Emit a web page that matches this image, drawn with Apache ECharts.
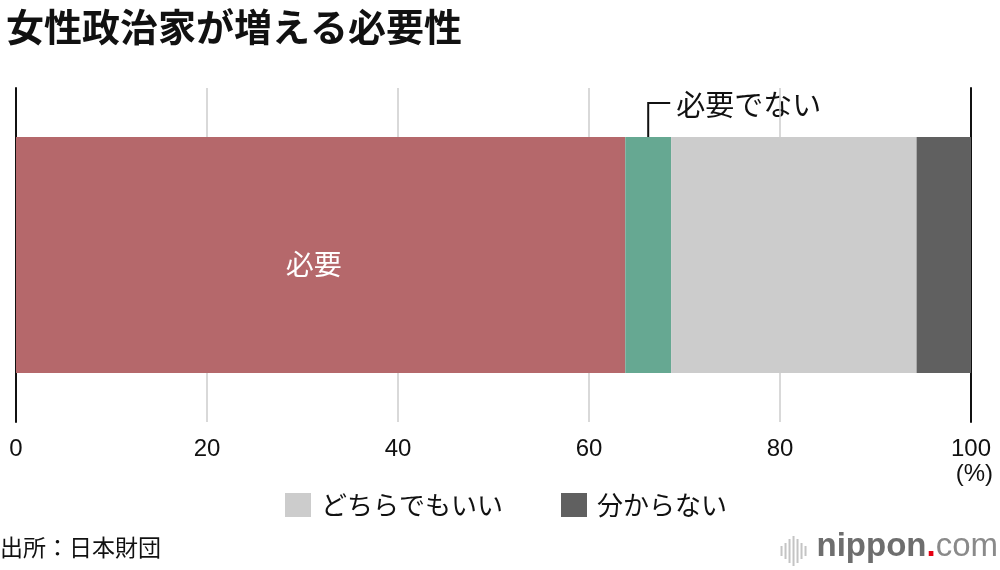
<!DOCTYPE html>
<html><head><meta charset="utf-8">
<script src="https://cdn.jsdelivr.net/npm/echarts@6/dist/echarts.min.js"></script>
<style>html,body{margin:0;padding:0;background:#fff;}#c{width:1000px;height:570px;}</style>
</head><body><div id="c"></div>
<script>
const categories = ['全体'];
const seriesNames = ['必要', '必要でない', 'どちらでもいい', '分からない'];
const seriesValues = [[63.8], [4.8], [25.7], [5.7]];
const seriesColors = ['#b5686b', '#66a892', '#cccccc', '#606060'];
const xTicks = [0, 20, 40, 60, 80, 100];
const FONT = '"Noto Sans CJK JP", "Noto Sans", sans-serif';
const NUMFONT = '"Liberation Sans", Arial, sans-serif';

const chart = echarts.init(document.getElementById('c'), null, {renderer: 'canvas'});
const series = seriesNames.map((n, i) => ({
  name: n, type: 'bar', stack: 'all', barWidth: 236,
  data: seriesValues[i],
  itemStyle: {color: seriesColors[i]},
  label: i === 0 ? {show: true, position: 'inside', offset: [-7, 9], color: '#fff', fontSize: 28, fontFamily: FONT, formatter: n} : {show: false},
  emphasis: {disabled: true},
  animation: false
}));
const logoBars = [10, 16, 24, 30, 24, 16, 10].map((h, i) => ({
  type: 'rect', shape: {x: i * 4, y: 16 - h / 2, width: 2, height: h}, style: {fill: '#c4c4c4'}
}));
chart.setOption({
  animation: false,
  textStyle: {fontFamily: FONT},
  title: {text: '女性政治家が増える必要性', left: 1, top: 3,
    textStyle: {fontSize: 38, fontWeight: 'bold', color: '#111', fontFamily: FONT}},
  grid: {left: 16, right: 29, top: 88, bottom: 148, containLabel: false},
  xAxis: {type: 'value', min: 0, max: 100, interval: 20,
    axisLine: {show: false}, axisTick: {show: false},
    splitLine: {show: true, lineStyle: {color: '#cccccc', width: 1.5}},
    axisLabel: {margin: 15, fontSize: 24, color: '#111', fontFamily: NUMFONT, lineHeight: 25,
      formatter: v => v === 100 ? '100\n (%)' : String(v)}},
  yAxis: [
    {type: 'category', data: categories, axisLine: {show: true, lineStyle: {color: '#111', width: 2}}, axisTick: {show: false}, axisLabel: {show: false}},
    {type: 'category', data: categories, position: 'right', axisLine: {show: true, lineStyle: {color: '#111', width: 2}}, axisTick: {show: false}, axisLabel: {show: false}}
  ],
  legend: {data: ['どちらでもいい', '分からない'], left: 280, top: 487, itemWidth: 26, itemHeight: 24,
    itemGap: 58, icon: 'rect', textStyle: {fontSize: 26, color: '#111', fontFamily: FONT, padding: [0, 0, 0, 5]}, selectedMode: false},
  series: series,
  graphic: [
    {id: 'src', type: 'text', left: 0, top: 536, style: {text: '出所：日本財団', fontSize: 23, fill: '#111', fontFamily: FONT}},
    {id: 'logo', type: 'group', right: 2, top: 530, children: logoBars.concat([
      {type: 'text', x: 36, y: -5, style: {text: '{a|nippon}{b|.}{c|com}', fontFamily: '"Open Sans", sans-serif',
        rich: {a: {fontSize: 33, fontWeight: 'bold', fill: '#6e6e6e'}, b: {fontSize: 33, fontWeight: 'bold', fill: '#e60012'}, c: {fontSize: 33, fill: '#8a8a8a', fontWeight: 300}}}}
    ])}
  ]
});

// Annotation for 必要でない, anchored through the chart's scales
const mid = seriesValues[0][0] + seriesValues[1][0] / 2;
const p = chart.convertToPixel({gridIndex: 0}, [mid, 0]);
const barTop = p[1] - 118;
chart.setOption({graphic: [
  {id: 'leader', type: 'polyline', shape: {points: [[p[0], barTop], [p[0], barTop - 34], [p[0] + 22, barTop - 34]]},
    style: {stroke: '#111', lineWidth: 2, fill: null}},
  {id: 'ann', type: 'text', x: p[0] + 28, y: barTop - 32, style: {text: '必要でない', fontSize: 29, fill: '#111', fontFamily: FONT, verticalAlign: 'middle'}}
]});
</script>
</body></html>
